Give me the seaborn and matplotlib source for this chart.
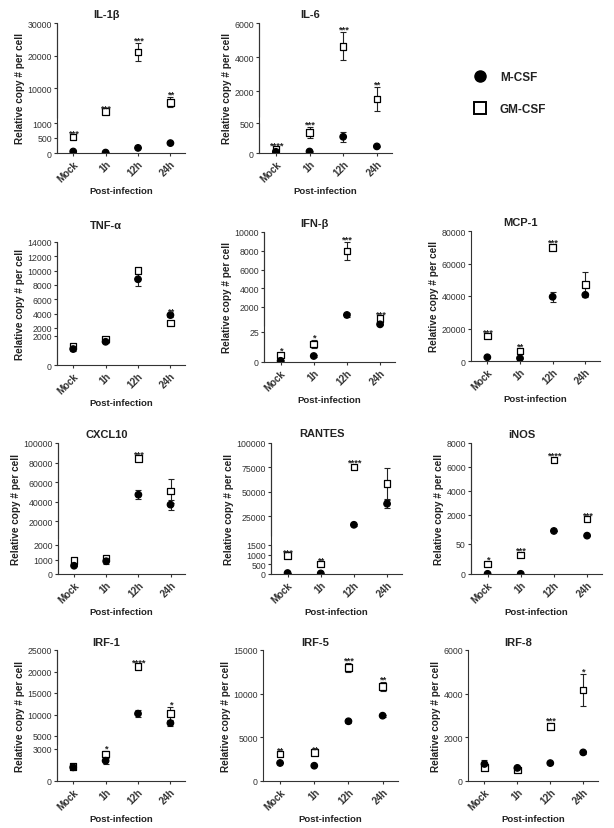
import numpy as np
import pandas as pd
import matplotlib
matplotlib.use("Agg")
import matplotlib.pyplot as plt
from matplotlib.lines import Line2D
import seaborn as sns

# ---- data ----
TIMES = ["Mock", "1h", "12h", "24h"]
GROUPS = ["GM-CSF", "M-CSF"]

IL1B_M = [50, 15, 170, 330]
IL1B_M_SEM = [10, 5, 15, 25]
IL1B_GM = [540, 2970, 21100, 5700]
IL1B_GM_SEM = [30, 200, 2800, 1500]
IL1B_STARS = ["***", "***", "***", "**"]
IL1B_YTICKS = [0, 500, 1000, 10000, 20000, 30000]

IL6_M = [20, 25, 270, 110]
IL6_M_SEM = [5, 5, 80, 10]
IL6_GM = [70, 340, 4630, 1530]
IL6_GM_SEM = [20, 90, 820, 720]
IL6_STARS = ["****", "***", "***", "**"]
IL6_YTICKS = [0, 500, 2000, 4000, 6000]

TNF_M = [1100, 1600, 8800, 3800]
TNF_M_SEM = [150, 80, 1000, 200]
TNF_GM = [1300, 1800, 10000, 2700]
TNF_GM_SEM = [80, 100, 300, 100]
TNF_STARS = ["", "", "", "**"]
TNF_YTICKS = [0, 2000, 2000, 4000, 6000, 8000, 10000, 12000, 14000]

IFNB_M = [1, 5, 1150, 150]
IFNB_M_SEM = [0.3, 1, 200, 50]
IFNB_GM = [6, 15, 7950, 800]
IFNB_GM_SEM = [1.5, 3, 950, 100]
IFNB_STARS = ["*", "*", "***", "***"]
IFNB_YTICKS = [0, 25, 2000, 4000, 6000, 8000, 10000]

MCP1_M = [2300, 1700, 39500, 40700]
MCP1_M_SEM = [300, 300, 3000, 1000]
MCP1_GM = [15500, 6300, 69800, 47200]
MCP1_GM_SEM = [800, 800, 1500, 7800]
MCP1_STARS = ["***", "**", "***", ""]
MCP1_YTICKS = [0, 20000, 40000, 60000, 80000]

CXCL10_M = [570, 880, 47000, 36800]
CXCL10_M_SEM = [50, 200, 4500, 5000]
CXCL10_GM = [920, 1100, 84000, 51000]
CXCL10_GM_SEM = [60, 100, 2000, 12000]
CXCL10_STARS = ["", "", "***", ""]
CXCL10_YTICKS = [0, 1000, 2000, 20000, 40000, 60000, 80000, 100000]

RANTES_M = [50, 30, 16000, 37600]
RANTES_M_SEM = [10, 5, 800, 4000]
RANTES_GM = [945, 520, 75600, 58500]
RANTES_GM_SEM = [60, 60, 1500, 15500]
RANTES_STARS = ["***", "**", "****", ""]
RANTES_YTICKS = [0, 500, 1000, 1500, 25000, 50000, 75000, 100000]

INOS_M = [0.3, 0.3, 670, 280]
INOS_M_SEM = [0.1, 0.1, 30, 20]
INOS_GM = [16.7, 32, 6580, 1670]
INOS_GM_SEM = [4, 3, 150, 80]
INOS_STARS = ["*", "***", "****", "***"]
INOS_YTICKS = [0, 50, 2000, 4000, 6000, 8000]

IRF1_M = [1280, 1900, 10200, 8000]
IRF1_M_SEM = [150, 300, 800, 600]
IRF1_GM = [1340, 2530, 21200, 10200]
IRF1_GM_SEM = [80, 300, 300, 1500]
IRF1_STARS = ["", "*", "****", "*"]
IRF1_YTICKS = [0, 3000, 5000, 10000, 15000, 20000, 25000]

IRF5_M = [2060, 1750, 6840, 7480]
IRF5_M_SEM = [50, 50, 200, 100]
IRF5_GM = [3090, 3280, 13020, 10850]
IRF5_GM_SEM = [100, 100, 500, 500]
IRF5_STARS = ["**", "**", "***", "**"]
IRF5_YTICKS = [0, 5000, 10000, 15000]

IRF8_M = [780, 600, 820, 1310]
IRF8_M_SEM = [200, 50, 30, 80]
IRF8_GM = [630, 500, 2500, 4170]
IRF8_GM_SEM = [100, 50, 150, 750]
IRF8_STARS = ["", "", "***", "*"]
IRF8_YTICKS = [0, 2000, 4000, 6000]

PANELS = [
    ("IL-1β", IL1B_M, IL1B_M_SEM, IL1B_GM, IL1B_GM_SEM, IL1B_STARS, IL1B_YTICKS),
    ("IL-6", IL6_M, IL6_M_SEM, IL6_GM, IL6_GM_SEM, IL6_STARS, IL6_YTICKS),
    ("TNF-α", TNF_M, TNF_M_SEM, TNF_GM, TNF_GM_SEM, TNF_STARS, TNF_YTICKS),
    ("IFN-β", IFNB_M, IFNB_M_SEM, IFNB_GM, IFNB_GM_SEM, IFNB_STARS, IFNB_YTICKS),
    ("MCP-1", MCP1_M, MCP1_M_SEM, MCP1_GM, MCP1_GM_SEM, MCP1_STARS, MCP1_YTICKS),
    ("CXCL10", CXCL10_M, CXCL10_M_SEM, CXCL10_GM, CXCL10_GM_SEM, CXCL10_STARS, CXCL10_YTICKS),
    ("RANTES", RANTES_M, RANTES_M_SEM, RANTES_GM, RANTES_GM_SEM, RANTES_STARS, RANTES_YTICKS),
    ("iNOS", INOS_M, INOS_M_SEM, INOS_GM, INOS_GM_SEM, INOS_STARS, INOS_YTICKS),
    ("IRF-1", IRF1_M, IRF1_M_SEM, IRF1_GM, IRF1_GM_SEM, IRF1_STARS, IRF1_YTICKS),
    ("IRF-5", IRF5_M, IRF5_M_SEM, IRF5_GM, IRF5_GM_SEM, IRF5_STARS, IRF5_YTICKS),
    ("IRF-8", IRF8_M, IRF8_M_SEM, IRF8_GM, IRF8_GM_SEM, IRF8_STARS, IRF8_YTICKS),
]

# ---- layout: pixel box (left, right, top, bottom), axis break, title offset ----
# break = (lower segment top, upper segment bottom, lower height px, gap px)
LAYOUT = [
    dict(box=(57, 185, 24, 154), brk=(1000, 1000, 30, 5.3), title_dy=9),
    dict(box=(259, 392, 24, 154), brk=(500, 500, 30, 6.5), title_dy=9),
    dict(box=(57, 185, 243, 366), brk=(2000, 2000, 29, 8), title_dy=17),
    dict(box=(264, 395, 233, 363), brk=(25, 0, 30, 6.25), title_dy=9),
    dict(box=(471, 600, 232, 362), brk=None, title_dy=9),
    dict(box=(58, 185, 444, 575), brk=(2000, 2000, 29, 6.4), title_dy=9),
    dict(box=(271, 402, 444, 575), brk=(1500, 5000, 29, 9.5), title_dy=10),
    dict(box=(471, 602, 444, 575), brk=(50, 0, 30, 5), title_dy=9),
    dict(box=(57, 185, 651, 782), brk=(3000, 3000, 32, 4.4), title_dy=8),
    dict(box=(263, 398, 651, 782), brk=None, title_dy=8),
    dict(box=(468, 598, 651, 782), brk=None, title_dy=8),
]

W, H = 614, 829
INK = "#222222"
EDGE = "#333333"

sns.set_theme(style="ticks")
plt.rcParams["font.family"] = ["Liberation Sans", "DejaVu Sans"]
plt.rcParams.update({
    "axes.edgecolor": EDGE, "axes.linewidth": 0.8,
    "xtick.color": EDGE, "ytick.color": EDGE,
    "xtick.major.size": 2.5, "ytick.major.size": 2.5,
    "xtick.major.width": 0.8, "ytick.major.width": 0.8,
    "xtick.major.pad": 1.5, "ytick.major.pad": 1.2,
    "text.color": INK, "axes.labelcolor": INK,
})


def broken_scale(ax, lo_top, up_bot, up_top, hl, gap, total):
    hu = total - hl - gap

    def fwd(y):
        y = np.asarray(y, dtype=float)
        return np.where(y <= lo_top, y / lo_top * hl,
                        hl + gap + (y - up_bot) / (up_top - up_bot) * hu)

    def inv(d):
        d = np.asarray(d, dtype=float)
        return np.where(d <= hl, d / hl * lo_top,
                        up_bot + (d - hl - gap) / hu * (up_top - up_bot))

    ax.set_yscale("function", functions=(fwd, inv))
    ax.spines["left"].set_visible(False)
    for y0, y1 in [(0, hl / total), ((hl + gap) / total, 1)]:
        ax.plot([0, 0], [y0, y1], transform=ax.transAxes, color=EDGE, lw=0.8,
                clip_on=False, solid_capstyle="butt")


fig = plt.figure(figsize=(W / 100, H / 100), dpi=100)

for (title, m, m_sem, gm, gm_sem, stars, yticks), lay in zip(PANELS, LAYOUT):
    l, r, t, b = lay["box"]
    ax = fig.add_axes([l / W, 1 - b / H, (r - l) / W, (b - t) / H])
    top = yticks[-1]

    df = pd.DataFrame({
        "pos": list(range(len(TIMES))) * 2,
        "group": np.repeat(GROUPS, len(TIMES)),
        "value": gm + m,
        "sem": gm_sem + m_sem,
    })

    if lay["brk"] is not None:
        lo_top, up_bot, hl, gap = lay["brk"]
        broken_scale(ax, lo_top, up_bot, top, hl, gap, b - t)

    ax.errorbar(df["pos"], df["value"], yerr=df["sem"], fmt="none", ecolor=INK,
                elinewidth=0.8, capsize=2, capthick=0.8, zorder=2)
    sns.scatterplot(data=df, x="pos", y="value", hue="group", style="group",
                    markers={"M-CSF": "o", "GM-CSF": "s"},
                    palette={"M-CSF": "black", "GM-CSF": "white"},
                    edgecolor="black", linewidth=0.9, s=22, legend=False,
                    zorder=3, ax=ax)

    for i, st in enumerate(stars):
        if st:
            y = max(gm[i] + gm_sem[i], m[i] + m_sem[i])
            ax.annotate(st, (i, y), xytext=(0, 0.3), textcoords="offset points",
                        ha="center", va="baseline", fontsize=6.8, fontweight="bold",
                        color=INK)

    # y ticks (a repeated value marks the bottom of the upper segment)
    tick_pos = []
    for k, v in enumerate(yticks):
        if k > 0 and v == yticks[k - 1]:
            v = v * (1 + 1e-9)
        tick_pos.append(v)
    ax.set_yticks(tick_pos, [str(v) for v in yticks], fontsize=6.3)
    ax.set_ylim(0, top)
    ax.set_xlim(-0.5, 3.45)
    ax.set_xticks(range(len(TIMES)), TIMES, rotation=45, ha="right",
                  rotation_mode="anchor", fontsize=7, fontweight="bold")
    sns.despine(ax=ax)

    ax.set_ylabel("Relative copy # per cell", fontsize=7.2, fontweight="bold", labelpad=1.5)
    ax.set_xlabel("Post-infection", fontsize=6.8, fontweight="bold", labelpad=2)
    xfrac = ((l - 30 + r) / 2 - l) / (r - l)
    ax.annotate(title, xy=(xfrac, 1), xycoords="axes fraction",
                xytext=(0, lay["title_dy"] * 0.72), textcoords="offset points",
                ha="center", va="center", fontsize=8, fontweight="bold")

handles = [
    Line2D([], [], marker="o", ls="none", color="black", markersize=8),
    Line2D([], [], marker="s", ls="none", markerfacecolor="white",
           markeredgecolor="black", markeredgewidth=1.4, markersize=8.5),
]
fig.legend(handles, ["M-CSF", "GM-CSF"], loc="upper left",
           bbox_to_anchor=(474 / W, 1 - 72 / H), frameon=False,
           prop={"size": 8.5, "weight": "bold"}, labelspacing=1.7,
           handlelength=1, handletextpad=1.2, borderpad=0, borderaxespad=0)

fig.savefig("out.png", dpi=100)
